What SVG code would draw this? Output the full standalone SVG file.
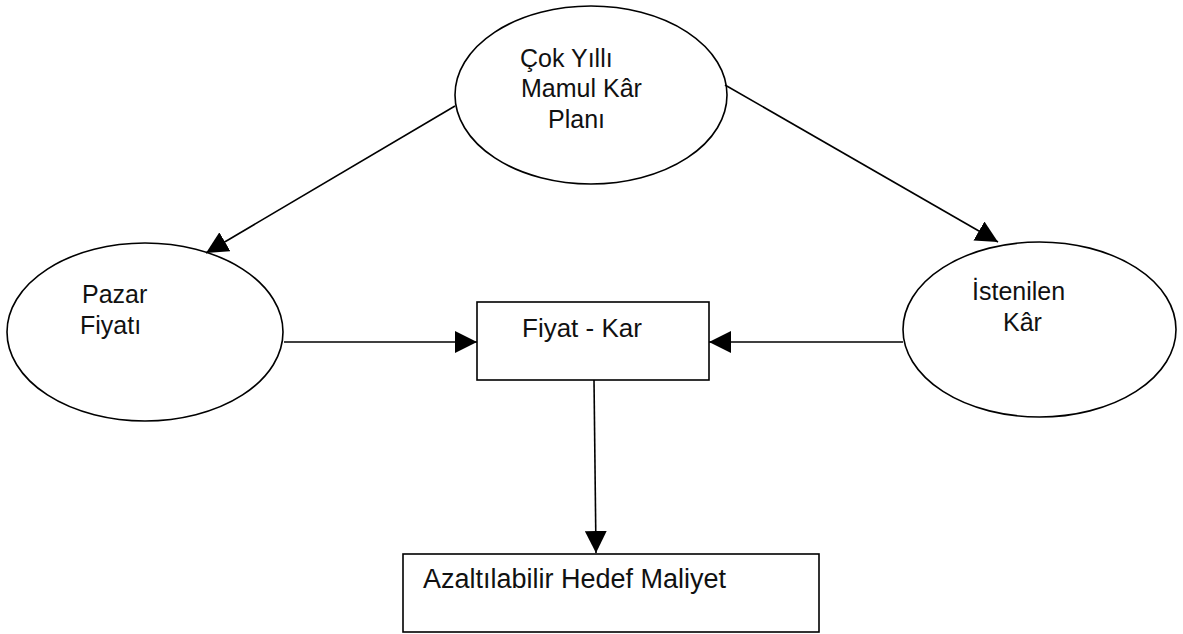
<svg xmlns="http://www.w3.org/2000/svg" width="1183" height="634" viewBox="0 0 1183 634">
<style>
.shape{fill:#fff;stroke:#000;stroke-width:1.6}
.t{font-family:"Liberation Sans",Arial,sans-serif;font-size:25px;fill:#111}
.conn line{stroke:#000;stroke-width:1.6;marker-end:url(#ah)}
</style>
<defs>
<marker id="ah" markerUnits="userSpaceOnUse" markerWidth="22" markerHeight="22" viewBox="0 0 20 20" refX="20" refY="10" orient="auto">
<path d="M0,0 L20,10 L0,20 Z" fill="#000"/>
</marker>
</defs>
<rect width="1183" height="634" fill="#fff"/>
<g id="plan">
<ellipse class="shape" cx="591" cy="95" rx="136" ry="89"/>
<text class="t" x="520" y="67">Çok Yıllı</text>
<text class="t" x="521" y="97">Mamul Kâr</text>
<text class="t" x="548" y="128">Planı</text>
</g>
<g id="pazar">
<ellipse class="shape" cx="145" cy="332" rx="138" ry="89"/>
<text class="t" x="82" y="303">Pazar</text>
<text class="t" x="80" y="334">Fiyatı</text>
</g>
<g id="istenilen">
<ellipse class="shape" cx="1039.5" cy="329.5" rx="136.5" ry="87.5"/>
<text class="t" x="972" y="300">İstenilen</text>
<text class="t" x="1003" y="331">Kâr</text>
</g>
<g id="fiyatkar">
<rect class="shape" x="477" y="302" width="232" height="78"/>
<text class="t" x="522" y="337" style="font-size:26px">Fiyat - Kar</text>
</g>
<g id="hedef">
<rect class="shape" x="403" y="554" width="416" height="78"/>
<text class="t" x="423" y="588" style="font-size:27px">Azaltılabilir Hedef Maliyet</text>
</g>
<g id="connectors" class="conn">
<line x1="455" y1="106" x2="206" y2="253"/>
<line x1="725" y1="85" x2="998" y2="242"/>
<line x1="284" y1="342" x2="477" y2="342"/>
<line x1="903" y1="342" x2="709" y2="342"/>
<line x1="594" y1="380" x2="596" y2="553"/>
</g>
</svg>
